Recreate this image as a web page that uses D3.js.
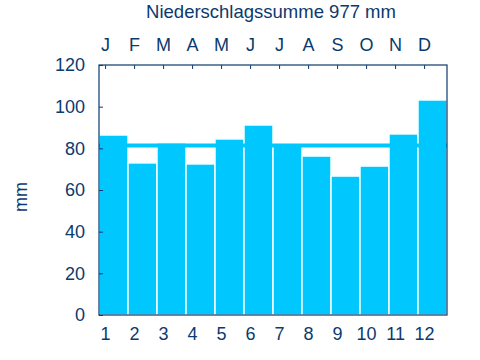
<!DOCTYPE html>
<html>
<head>
<meta charset="utf-8">
<script src="https://cdn.jsdelivr.net/npm/d3@7"></script>
<style>
  body { margin: 0; background: #fff; }
  svg text { font-family: "Liberation Sans", Arial, sans-serif; fill: #0b3a6e; }
</style>
</head>
<body>
<svg id="chart" width="480" height="360"></svg>
<script>
var months = [1, 2, 3, 4, 5, 6, 7, 8, 9, 10, 11, 12];
var monthLetters = ["J", "F", "M", "A", "M", "J", "J", "A", "S", "O", "N", "D"];
var precip = [86.4, 73.0, 82.6, 72.5, 84.5, 91.2, 82.1, 76.3, 66.7, 71.5, 86.9, 103.2];
var yTicks = [0, 20, 40, 60, 80, 100, 120];
var total = 977;

var svg = d3.select("#chart");
var margin = { top: 65, right: 33, bottom: 45, left: 99 };
var width = 480 - margin.left - margin.right;
var height = 360 - margin.top - margin.bottom;
var axisColor = "#0b3a6e";
var barColor = "#00c8fe";

var x = d3.scaleLinear().domain([0.79, 12.79]).range([0, width]);
var y = d3.scaleLinear().domain([0, 120]).range([height, 0]);

var g = svg.append("g")
  .attr("transform", "translate(" + margin.left + "," + margin.top + ")");

// bars
g.selectAll("rect.bar")
  .data(precip)
  .enter()
  .append("rect")
  .attr("class", "bar")
  .attr("x", (d, i) => x(months[i] - 0.21))
  .attr("width", x(1) - x(0))
  .attr("y", (d) => y(d))
  .attr("height", (d) => height - y(d))
  .attr("fill", barColor)
  .attr("stroke", "#f4ffff")
  .attr("stroke-width", 1.5);

// mean line
var mean = d3.sum(precip) / 12;
g.append("line")
  .attr("x1", 0)
  .attr("x2", width)
  .attr("y1", y(mean))
  .attr("y2", y(mean))
  .attr("stroke", barColor)
  .attr("stroke-width", 4);

// frame
g.append("rect")
  .attr("width", width)
  .attr("height", height)
  .attr("fill", "none")
  .attr("stroke", axisColor)
  .attr("stroke-width", 1.2);

// left axis
g.append("g")
  .call(d3.axisLeft(y).tickValues(yTicks).tickSize(-4).tickPadding(14))
  .call((a) => a.select(".domain").remove())
  .call((a) => a.selectAll("line").attr("stroke", axisColor))
  .call((a) => a.selectAll("text").attr("font-size", 18).style("fill", axisColor));

// bottom numbers
g.append("g")
  .attr("transform", "translate(0," + height + ")")
  .call(d3.axisBottom(x).tickValues(months).tickSize(0).tickPadding(12).tickFormat(d3.format("d")))
  .call((a) => a.select(".domain").remove())
  .call((a) => a.selectAll("text").attr("font-size", 18).style("fill", axisColor));

// top month letters
g.append("g")
  .call(d3.axisTop(x).tickValues(months).tickSize(-4).tickPadding(14)
    .tickFormat((d, i) => monthLetters[i]))
  .call((a) => a.select(".domain").remove())
  .call((a) => a.selectAll("line").attr("stroke", axisColor))
  .call((a) => a.selectAll("text").attr("font-size", 18).style("fill", axisColor));

// title
svg.append("text")
  .attr("x", 271)
  .attr("y", 18)
  .attr("text-anchor", "middle")
  .attr("font-size", 18.5)
  .text("Niederschlagssumme " + total + " mm");

// y label
svg.append("text")
  .attr("transform", "translate(27," + (margin.top + height / 2 + 7) + ") rotate(-90)")
  .attr("text-anchor", "middle")
  .attr("font-size", 18)
  .text("mm");
</script>
</body>
</html>
